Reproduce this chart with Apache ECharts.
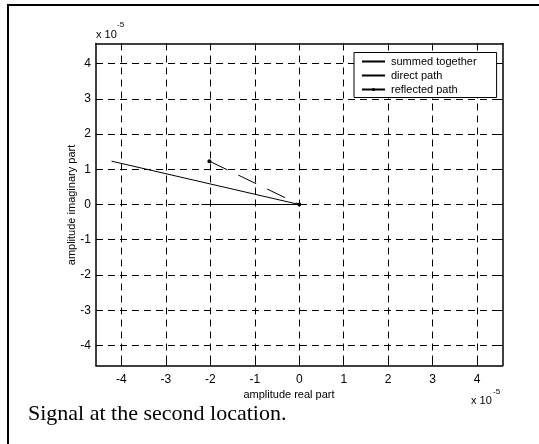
<!DOCTYPE html>
<html>
<head>
<meta charset="utf-8">
<script src="https://cdn.jsdelivr.net/npm/echarts@6/dist/echarts.min.js"></script>
<style>
  html, body { margin: 0; padding: 0; background: #fff; }
  #chart { width: 539px; height: 444px; }
</style>
</head>
<body>
<div id="chart"></div>
<script>
// values in units of 1e-5 (axes show "x 10^-5")
const tickValues = [-4, -3, -2, -1, 0, 1, 2, 3, 4]
const tickLabels = ['-4', '-3', '-2', '-1', '0', '1', '2', '3', '4']
const summedPath = [[-4.22, 1.23], [0, 0]]
const directPath = [[-2.2, 0], [0, 0]]
const reflectedPath = [[-2.02, 1.23], [0, 0]]
const seriesNames = ['summed together', 'direct path', 'reflected path']

const chart = echarts.init(document.getElementById('chart'), null, { renderer: 'canvas' })

const font = 'Liberation Sans, Arial, sans-serif'
const axisRange = 4.57

// common axis pieces
const gridLine = { show: true, lineStyle: { color: '#000', width: 1, type: [7, 5] } }
const tick = { show: true, inside: true, length: 5, customValues: tickValues, lineStyle: { color: '#000', width: 1 } }

const option = {
  animation: false,
  backgroundColor: '#fff',
  grid: { left: 96, top: 43.5, width: 406.5, height: 322 },
  xAxis: [
    {
      type: 'value', min: -axisRange, max: axisRange, position: 'bottom',
      axisLine: { show: true, onZero: false, lineStyle: { color: '#000', width: 1.5 } },
      axisTick: tick,
      axisLabel: {
        customValues: tickValues, margin: 8, color: '#000', fontSize: 12, fontFamily: font,
        formatter: (v) => tickLabels[tickValues.indexOf(Math.round(v))]
      },
      splitLine: gridLine
    },
    {
      type: 'value', min: -axisRange, max: axisRange, position: 'top',
      axisLine: { show: true, onZero: false, lineStyle: { color: '#000', width: 1.5 } },
      axisTick: tick, axisLabel: { show: false }, splitLine: { show: false }
    }
  ],
  yAxis: [
    {
      type: 'value', min: -axisRange, max: axisRange, position: 'left',
      axisLine: { show: true, onZero: false, lineStyle: { color: '#000', width: 1.5 } },
      axisTick: tick,
      axisLabel: {
        customValues: tickValues, margin: 5, color: '#000', fontSize: 12, fontFamily: font,
        formatter: (v) => tickLabels[tickValues.indexOf(Math.round(v))]
      },
      splitLine: gridLine
    },
    {
      type: 'value', min: -axisRange, max: axisRange, position: 'right',
      axisLine: { show: true, onZero: false, lineStyle: { color: '#000', width: 1.5 } },
      axisTick: tick, axisLabel: { show: false }, splitLine: { show: false }
    }
  ],
  legend: {
    orient: 'vertical', left: 354, top: 52.5,
    backgroundColor: '#fff', borderColor: '#000', borderWidth: 1,
    padding: [3.5, 20, 2.5, 7], itemGap: 3, itemWidth: 23, itemHeight: 4,
    textStyle: { color: '#000', fontSize: 11, fontFamily: font, padding: [0, 0, 0, 1] },
    data: [
      { name: seriesNames[0], itemStyle: { opacity: 0 } },
      { name: seriesNames[1], itemStyle: { opacity: 0 } },
      { name: seriesNames[2], lineStyle: { type: 'solid' } }
    ]
  },
  series: [
    {
      name: seriesNames[0], type: 'line', data: summedPath, symbol: 'none',
      lineStyle: { color: '#000', width: 1 }, itemStyle: { color: '#000' }
    },
    {
      name: seriesNames[1], type: 'line', data: directPath, symbol: 'none',
      lineStyle: { color: '#000', width: 1 }, itemStyle: { color: '#000' }
    },
    {
      name: seriesNames[2], type: 'line', data: reflectedPath, symbol: 'circle', symbolSize: 4,
      lineStyle: { color: '#000', width: 1, type: [20, 12] }, itemStyle: { color: '#000' }
    }
  ],
  graphic: [
    // outer frame (left and top edges)
    { type: 'line', shape: { x1: 8, y1: 5, x2: 8, y2: 444 }, style: { stroke: '#000', lineWidth: 2 } },
    { type: 'line', shape: { x1: 7, y1: 5, x2: 539, y2: 5 }, style: { stroke: '#000', lineWidth: 2 } },
    // exponent labels
    { type: 'text', left: 96, top: 29, style: { text: 'x 10', fill: '#000', font: '11px ' + font } },
    { type: 'text', left: 117, top: 21, style: { text: '-5', fill: '#000', font: '8px ' + font } },
    { type: 'text', left: 471, top: 395, style: { text: 'x 10', fill: '#000', font: '11px ' + font } },
    { type: 'text', left: 493, top: 388, style: { text: '-5', fill: '#000', font: '8px ' + font } },
    // axis titles
    { type: 'text', x: 289, y: 395, style: { text: 'amplitude real part', fill: '#000', font: '11px ' + font, align: 'center', verticalAlign: 'middle' } },
    { type: 'text', x: 72, y: 205, rotation: Math.PI / 2, style: { text: 'amplitude imaginary part', fill: '#000', font: '11px ' + font, align: 'center', verticalAlign: 'middle' } },
    // caption
    { type: 'text', x: 28, y: 403, style: { text: 'Signal at the second location.', fill: '#000', font: '22px Liberation Serif, Times New Roman, serif', verticalAlign: 'top' } }
  ]
}

chart.setOption(option)
</script>
</body>
</html>
